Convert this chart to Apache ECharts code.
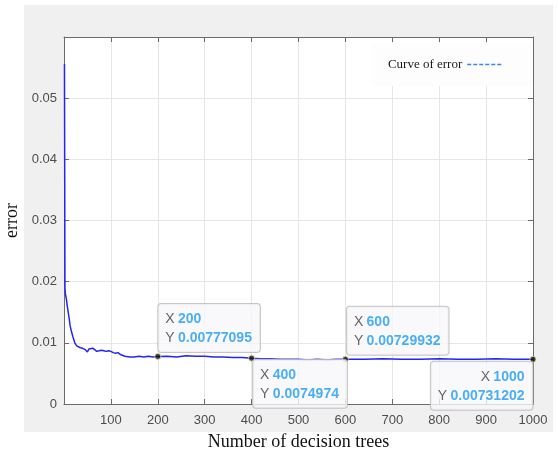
<!DOCTYPE html>
<html>
<head>
<meta charset="utf-8">
<script src="https://cdn.jsdelivr.net/npm/echarts@6/dist/echarts.min.js"></script>
<style>
  html, body { margin: 0; padding: 0; background: #fff; }
  #main { width: 558px; height: 457px; }
</style>
</head>
<body>
<div id="main"></div>
<script>
// number of trees (x) and error (y)
const treeCounts = [1, 2, 3, 5, 7, 9, 11, 13, 16, 19, 23, 27, 30, 35, 40, 45, 50, 53, 57, 62,
  66, 70, 75, 80, 85, 90, 95, 100, 105, 110, 115, 120, 130, 140, 150, 160, 170, 180, 190, 200,
  220, 240, 260, 280, 300, 320, 340, 360, 380, 400, 420, 440, 460, 480, 500, 520, 540, 560, 580, 600,
  640, 680, 720, 760, 800, 840, 880, 920, 960, 1000];
const errorValues = [0.0556, 0.0190, 0.0180, 0.0172, 0.0160, 0.0150, 0.0140, 0.0128, 0.0118, 0.0110,
  0.0100, 0.0095, 0.0093, 0.0092, 0.0091, 0.0089, 0.0085, 0.0090, 0.0092, 0.0091,
  0.0093, 0.0086, 0.0087, 0.0088, 0.0087, 0.0086, 0.0087, 0.0086, 0.0084, 0.0083,
  0.0084, 0.0081, 0.0078, 0.0077, 0.0077, 0.0078, 0.0077, 0.0078, 0.0077, 0.00777095,
  0.0078, 0.0077, 0.0079, 0.0078, 0.0078, 0.0077, 0.0077, 0.0076, 0.0076, 0.0074974,
  0.0074, 0.0074, 0.0073, 0.0073, 0.0073, 0.0072, 0.0073, 0.0072, 0.0073, 0.00729932,
  0.0073, 0.0074, 0.0073, 0.0073, 0.0074, 0.0073, 0.0073, 0.0074, 0.0073, 0.00731202];

// data tips
const tipX = [200, 400, 600, 1000];
const tipY = [0.00777095, 0.0074974, 0.00729932, 0.00731202];
const tipText = ['0.00777095', '0.0074974', '0.00729932', '0.00731202'];

const xTicks = [100, 200, 300, 400, 500, 600, 700, 800, 900, 1000];
const yTicks = [0, 0.01, 0.02, 0.03, 0.04, 0.05];

const curve = treeCounts.map((x, i) => [x, errorValues[i]]);

// where each tip box sits relative to its point
const tipPlace = [
  { position: [4, -49], align: 'left' },
  { position: [5, 5], align: 'left' },
  { position: [5, -49], align: 'left' },
  { position: [3, 6], align: 'right' }
];

const tips = tipX.map((x, i) => ({
  value: [x, tipY[i]],
  label: {
    show: true,
    position: tipPlace[i].position,
    align: tipPlace[i].align,
    verticalAlign: 'top',
    formatter: '{l|X} {v|' + x + '}\n{l|Y} {v|' + tipText[i] + '}',
    backgroundColor: '#f8f8fb',
    borderColor: '#b8b8b8',
    borderWidth: 1,
    borderRadius: 3,
    padding: [6, 8, 4, 7],
    rich: {
      l: { color: '#404040', fontSize: 14, fontFamily: 'Liberation Sans', lineHeight: 19 },
      v: { color: '#1e9bf5', fontSize: 14, fontWeight: 'bold', fontFamily: 'Liberation Sans', lineHeight: 19 }
    }
  }
}));

const axisGray = '#6b6b6b';
const labelStyle = { color: '#4d4d4d', fontSize: 13, fontFamily: 'Liberation Sans' };

const chart = echarts.init(document.getElementById('main'), null, { renderer: 'canvas' });

chart.setOption({
  animation: false,
  graphic: [{
    type: 'rect', z: -10,
    shape: { x: 24, y: 5, width: 529, height: 427 },
    style: { fill: '#f0f0f0' }
  }],
  grid: {
    left: 64, top: 37, right: 25, bottom: 53,
    containLabel: false, outerBoundsMode: 'none',
    show: true, backgroundColor: '#ffffff', borderWidth: 0
  },
  legend: {
    right: 26, top: 43,
    align: 'right',
    backgroundColor: '#fdfdfd',
    padding: [15, 30, 15, 16],
    itemWidth: 34,
    itemGap: 5,
    textStyle: { fontFamily: 'Liberation Serif', fontSize: 13, color: '#1a1a1a' },
    data: [{
      name: 'Curve of error',
      itemStyle: { opacity: 0 },
      lineStyle: { type: [4, 2], color: '#3a86ee', width: 1.5 }
    }]
  },
  xAxis: [{
    type: 'value', min: 0, max: 1000, interval: 100,
    name: 'Number of decision trees', nameLocation: 'middle', nameGap: 29,
    nameTextStyle: { fontFamily: 'Liberation Serif', fontSize: 18, color: '#111' },
    axisLine: { show: true, lineStyle: { color: axisGray } },
    axisTick: { show: true, inside: true, length: 5, lineStyle: { color: axisGray } },
    axisLabel: Object.assign({
      margin: 10, showMinLabel: false,
      formatter: v => xTicks.indexOf(Math.round(v)) >= 0 ? String(Math.round(v)) : ''
    }, labelStyle),
    splitLine: { show: true, lineStyle: { color: '#e6e6e6' } }
  }, {
    type: 'value', min: 0, max: 1000, interval: 100, position: 'top',
    axisLine: { show: true, onZero: false, lineStyle: { color: axisGray } },
    axisTick: { show: true, inside: true, length: 5, lineStyle: { color: axisGray } },
    axisLabel: { show: false },
    splitLine: { show: false }
  }],
  yAxis: [{
    type: 'value', min: 0, max: 0.06, interval: 0.01,
    name: 'error', nameLocation: 'middle', nameGap: 40,
    nameTextStyle: { fontFamily: 'Liberation Serif', fontSize: 18, color: '#111' },
    axisLine: { show: true, lineStyle: { color: axisGray } },
    axisTick: { show: true, inside: true, length: 5, lineStyle: { color: axisGray } },
    axisLabel: Object.assign({
      margin: 7, showMaxLabel: false,
      formatter: v => yTicks.find(t => Math.abs(t - v) < 1e-9) !== undefined ? String(+v.toFixed(2)) : ''
    }, labelStyle),
    splitLine: { show: true, lineStyle: { color: '#e6e6e6' } }
  }, {
    type: 'value', min: 0, max: 0.06, interval: 0.01, position: 'right',
    axisLine: { show: true, onZero: false, lineStyle: { color: axisGray } },
    axisTick: { show: true, inside: true, length: 5, lineStyle: { color: axisGray } },
    axisLabel: { show: false },
    splitLine: { show: false }
  }],
  series: [{
    name: 'Curve of error',
    type: 'line',
    symbol: 'none',
    data: curve,
    lineStyle: { color: '#2424f8', width: 1.5 },
    itemStyle: { color: '#3a86ee' },
    z: 3
  }, {
    name: 'tips',
    type: 'scatter',
    data: tips,
    symbolSize: 6,
    itemStyle: { color: '#111', borderColor: '#e8e0a0', borderWidth: 1 },
    z: 5
  }]
});
</script>
</body>
</html>
